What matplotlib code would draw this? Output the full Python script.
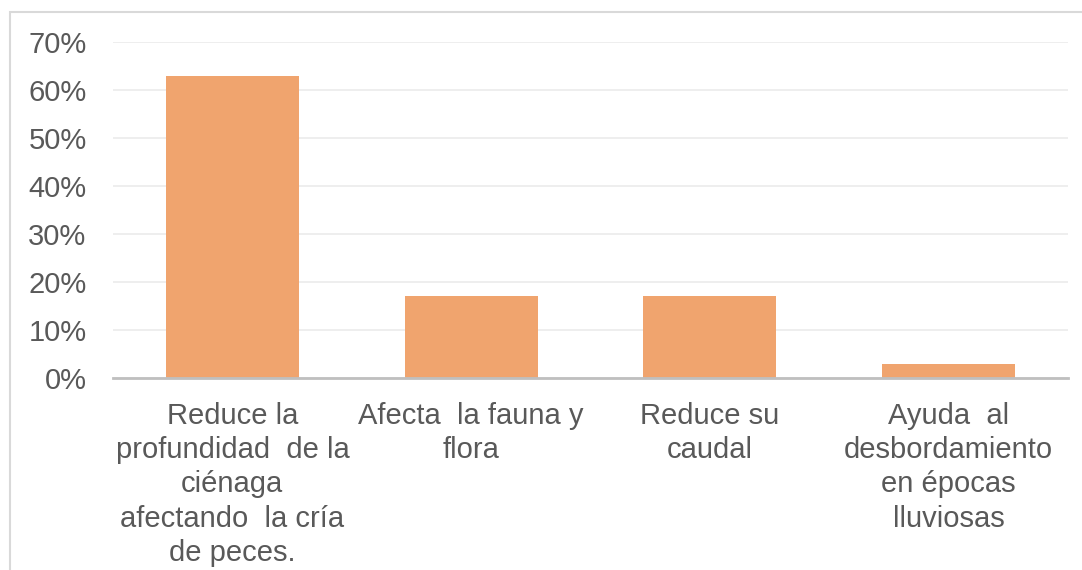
import numpy as np
import matplotlib.pyplot as plt
from matplotlib.patches import Rectangle
from matplotlib.ticker import PercentFormatter

# Datos del grafico
categorias = ["Reduce la\nprofundidad  de la\nciénaga\nafectando  la cría\nde peces.",
              "Afecta  la fauna y\nflora",
              "Reduce su\ncaudal",
              "Ayuda  al\ndesbordamiento\nen épocas\nlluviosas"]
valores = [0.63, 0.17, 0.17, 0.03]
y_ticks = [0, 0.1, 0.2, 0.3, 0.4, 0.5, 0.6, 0.7]

plt.rcParams['font.family'] = ['Liberation Sans', 'DejaVu Sans']
texto = '#595959'

fig = plt.figure(figsize=(10.82, 5.70), dpi=100)
ax = fig.add_axes([113/1082, 1-378/570, (1068-113)/1082, (378-42)/570])

# marco exterior gris claro
fig.patches.append(Rectangle((10/1082, -0.1), 1.2, 1-12/570+0.1, transform=fig.transFigure,
                             fill=False, edgecolor='#D9D9D9', linewidth=1.5))

x = np.arange(len(categorias))
ax.bar(x, valores, width=0.557, color='#F0A46E', zorder=3)

ax.set_xlim(-0.5, len(categorias)-0.5)
ax.set_ylim(0, 0.7)
ax.set_yticks(y_ticks)
ax.yaxis.set_major_formatter(PercentFormatter(1.0, decimals=0))
ax.grid(axis='y', color='#EBEBEB', linewidth=1.2, zorder=0)

for s in ['top', 'right', 'left']:
    ax.spines[s].set_visible(False)
ax.spines['bottom'].set_color('#BFBFBF')
ax.spines['bottom'].set_linewidth(2)
ax.spines['bottom'].set_zorder(4)

ax.set_xticks(x)
ax.set_xticklabels(categorias, fontsize=21, color=texto, linespacing=1.29)
ax.tick_params(axis='x', length=0, pad=17)
ax.tick_params(axis='y', length=0, pad=19, labelsize=21, labelcolor=texto)

fig.savefig('out.png', dpi=100)
